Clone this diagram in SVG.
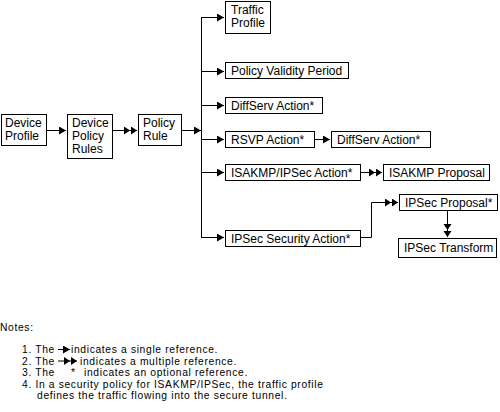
<svg xmlns="http://www.w3.org/2000/svg" width="500" height="412" viewBox="0 0 500 412">
<defs>
<style>
.box{fill:#fff;stroke:#000;stroke-width:1}
.t{font-family:"Liberation Sans",Arial,sans-serif;font-size:12px;fill:#000}
.n{font-family:"Liberation Sans",Arial,sans-serif;font-size:10.3px;letter-spacing:0.65px;fill:#000}
.c{fill:none;stroke:#000;stroke-width:1}
</style>
<marker id="one" markerUnits="userSpaceOnUse" markerWidth="8" markerHeight="9" refX="7" refY="4" orient="auto" viewBox="0 0 8 9">
<path d="M0,0 L7,4 L0,8 z" fill="#000"/>
</marker>
<marker id="two" markerUnits="userSpaceOnUse" markerWidth="14" markerHeight="9" refX="13" refY="4" orient="auto" viewBox="0 0 14 9">
<path d="M0,0 L6,4 L0,8 z M7,0 L13,4 L7,8 z" fill="#000"/>
</marker>
</defs>
<rect width="500" height="412" fill="#fff"/>
<g id="connectors">
<line class="c" x1="47" y1="130.5" x2="66" y2="130.5" marker-end="url(#one)"/>
<line class="c" x1="113" y1="130.5" x2="137" y2="130.5" marker-end="url(#two)"/>
<line class="c" x1="182" y1="130.5" x2="201" y2="130.5" marker-end="url(#one)"/>
<line class="c" x1="201.5" y1="17" x2="201.5" y2="238"/>
<line class="c" x1="201.5" y1="17.5" x2="224" y2="17.5" marker-end="url(#one)"/>
<line class="c" x1="201.5" y1="71.5" x2="224" y2="71.5" marker-end="url(#one)"/>
<line class="c" x1="201.5" y1="105.5" x2="224" y2="105.5" marker-end="url(#one)"/>
<line class="c" x1="201.5" y1="139.5" x2="224" y2="139.5" marker-end="url(#one)"/>
<line class="c" x1="201.5" y1="172.5" x2="224" y2="172.5" marker-end="url(#one)"/>
<line class="c" x1="201.5" y1="237.5" x2="224" y2="237.5" marker-end="url(#one)"/>
<line class="c" x1="315" y1="139.5" x2="330" y2="139.5" marker-end="url(#one)"/>
<line class="c" x1="361" y1="172.5" x2="382" y2="172.5" marker-end="url(#two)"/>
<polyline class="c" points="361,237.5 371.5,237.5 371.5,202.5 398,202.5" marker-end="url(#two)"/>
<line class="c" x1="447.5" y1="210" x2="447.5" y2="237" marker-end="url(#two)"/>
</g>
<g id="device-profile"><rect class="box" x="1.5" y="114.5" width="45" height="31"/><text class="t" x="5" y="127">Device</text><text class="t" x="5" y="140">Profile</text></g>
<g id="device-policy-rules"><rect class="box" x="67.5" y="114.5" width="45" height="44"/><text class="t" x="72" y="127">Device</text><text class="t" x="72" y="140">Policy</text><text class="t" x="72" y="153">Rules</text></g>
<g id="policy-rule"><rect class="box" x="138.5" y="114.5" width="43" height="31"/><text class="t" x="143" y="127">Policy</text><text class="t" x="143" y="140">Rule</text></g>
<g id="traffic-profile"><rect class="box" x="225.5" y="1.5" width="45" height="32"/><text class="t" x="231" y="14">Traffic</text><text class="t" x="231" y="27">Profile</text></g>
<g id="policy-validity-period"><rect class="box" x="225.5" y="62.5" width="123" height="16"/><text class="t" x="231" y="75">Policy Validity Period</text></g>
<g id="diffserv-action-1"><rect class="box" x="225.5" y="97.5" width="97" height="16"/><text class="t" x="231" y="110">DiffServ Action*</text></g>
<g id="rsvp-action"><rect class="box" x="225.5" y="131.5" width="89" height="16"/><text class="t" x="231" y="144">RSVP Action*</text></g>
<g id="diffserv-action-2"><rect class="box" x="331.5" y="131.5" width="99" height="16"/><text class="t" x="337" y="144">DiffServ Action*</text></g>
<g id="isakmp-ipsec-action"><rect class="box" x="225.5" y="164.5" width="135" height="16"/><text class="t" x="231" y="177">ISAKMP/IPSec Action*</text></g>
<g id="isakmp-proposal"><rect class="box" x="383.5" y="164.5" width="106" height="16"/><text class="t" x="389" y="177">ISAKMP Proposal</text></g>
<g id="ipsec-proposal"><rect class="box" x="399.5" y="194.5" width="98" height="16"/><text class="t" x="405" y="207">IPSec Proposal*</text></g>
<g id="ipsec-security-action"><rect class="box" x="225.5" y="230.5" width="135" height="16"/><text class="t" x="231" y="243">IPSec Security Action*</text></g>
<g id="ipsec-transform"><rect class="box" x="398.5" y="238.5" width="98" height="19"/><text class="t" x="404" y="252">IPSec Transform</text></g>
<g id="notes">
<text class="n" x="0" y="331">Notes:</text>
<text class="n" x="22" y="353">1. The</text>
<line class="c" x1="58" y1="349.5" x2="70" y2="349.5" marker-end="url(#one)"/>
<text class="n" x="71" y="353">indicates a single reference.</text>
<text class="n" x="22" y="364.5">2. The</text>
<line class="c" x1="58" y1="361" x2="77" y2="361" marker-end="url(#two)"/>
<text class="n" x="80" y="364.5">indicates a multiple reference.</text>
<text class="n" x="22" y="376">3. The</text>
<text class="n" x="71" y="376">*</text>
<text class="n" x="84" y="376">indicates an optional reference.</text>
<text class="n" x="22" y="387.5">4. In a security policy for ISAKMP/IPSec, the traffic profile</text>
<text class="n" x="37" y="399">defines the traffic flowing into the secure tunnel.</text>
</g>
</svg>
